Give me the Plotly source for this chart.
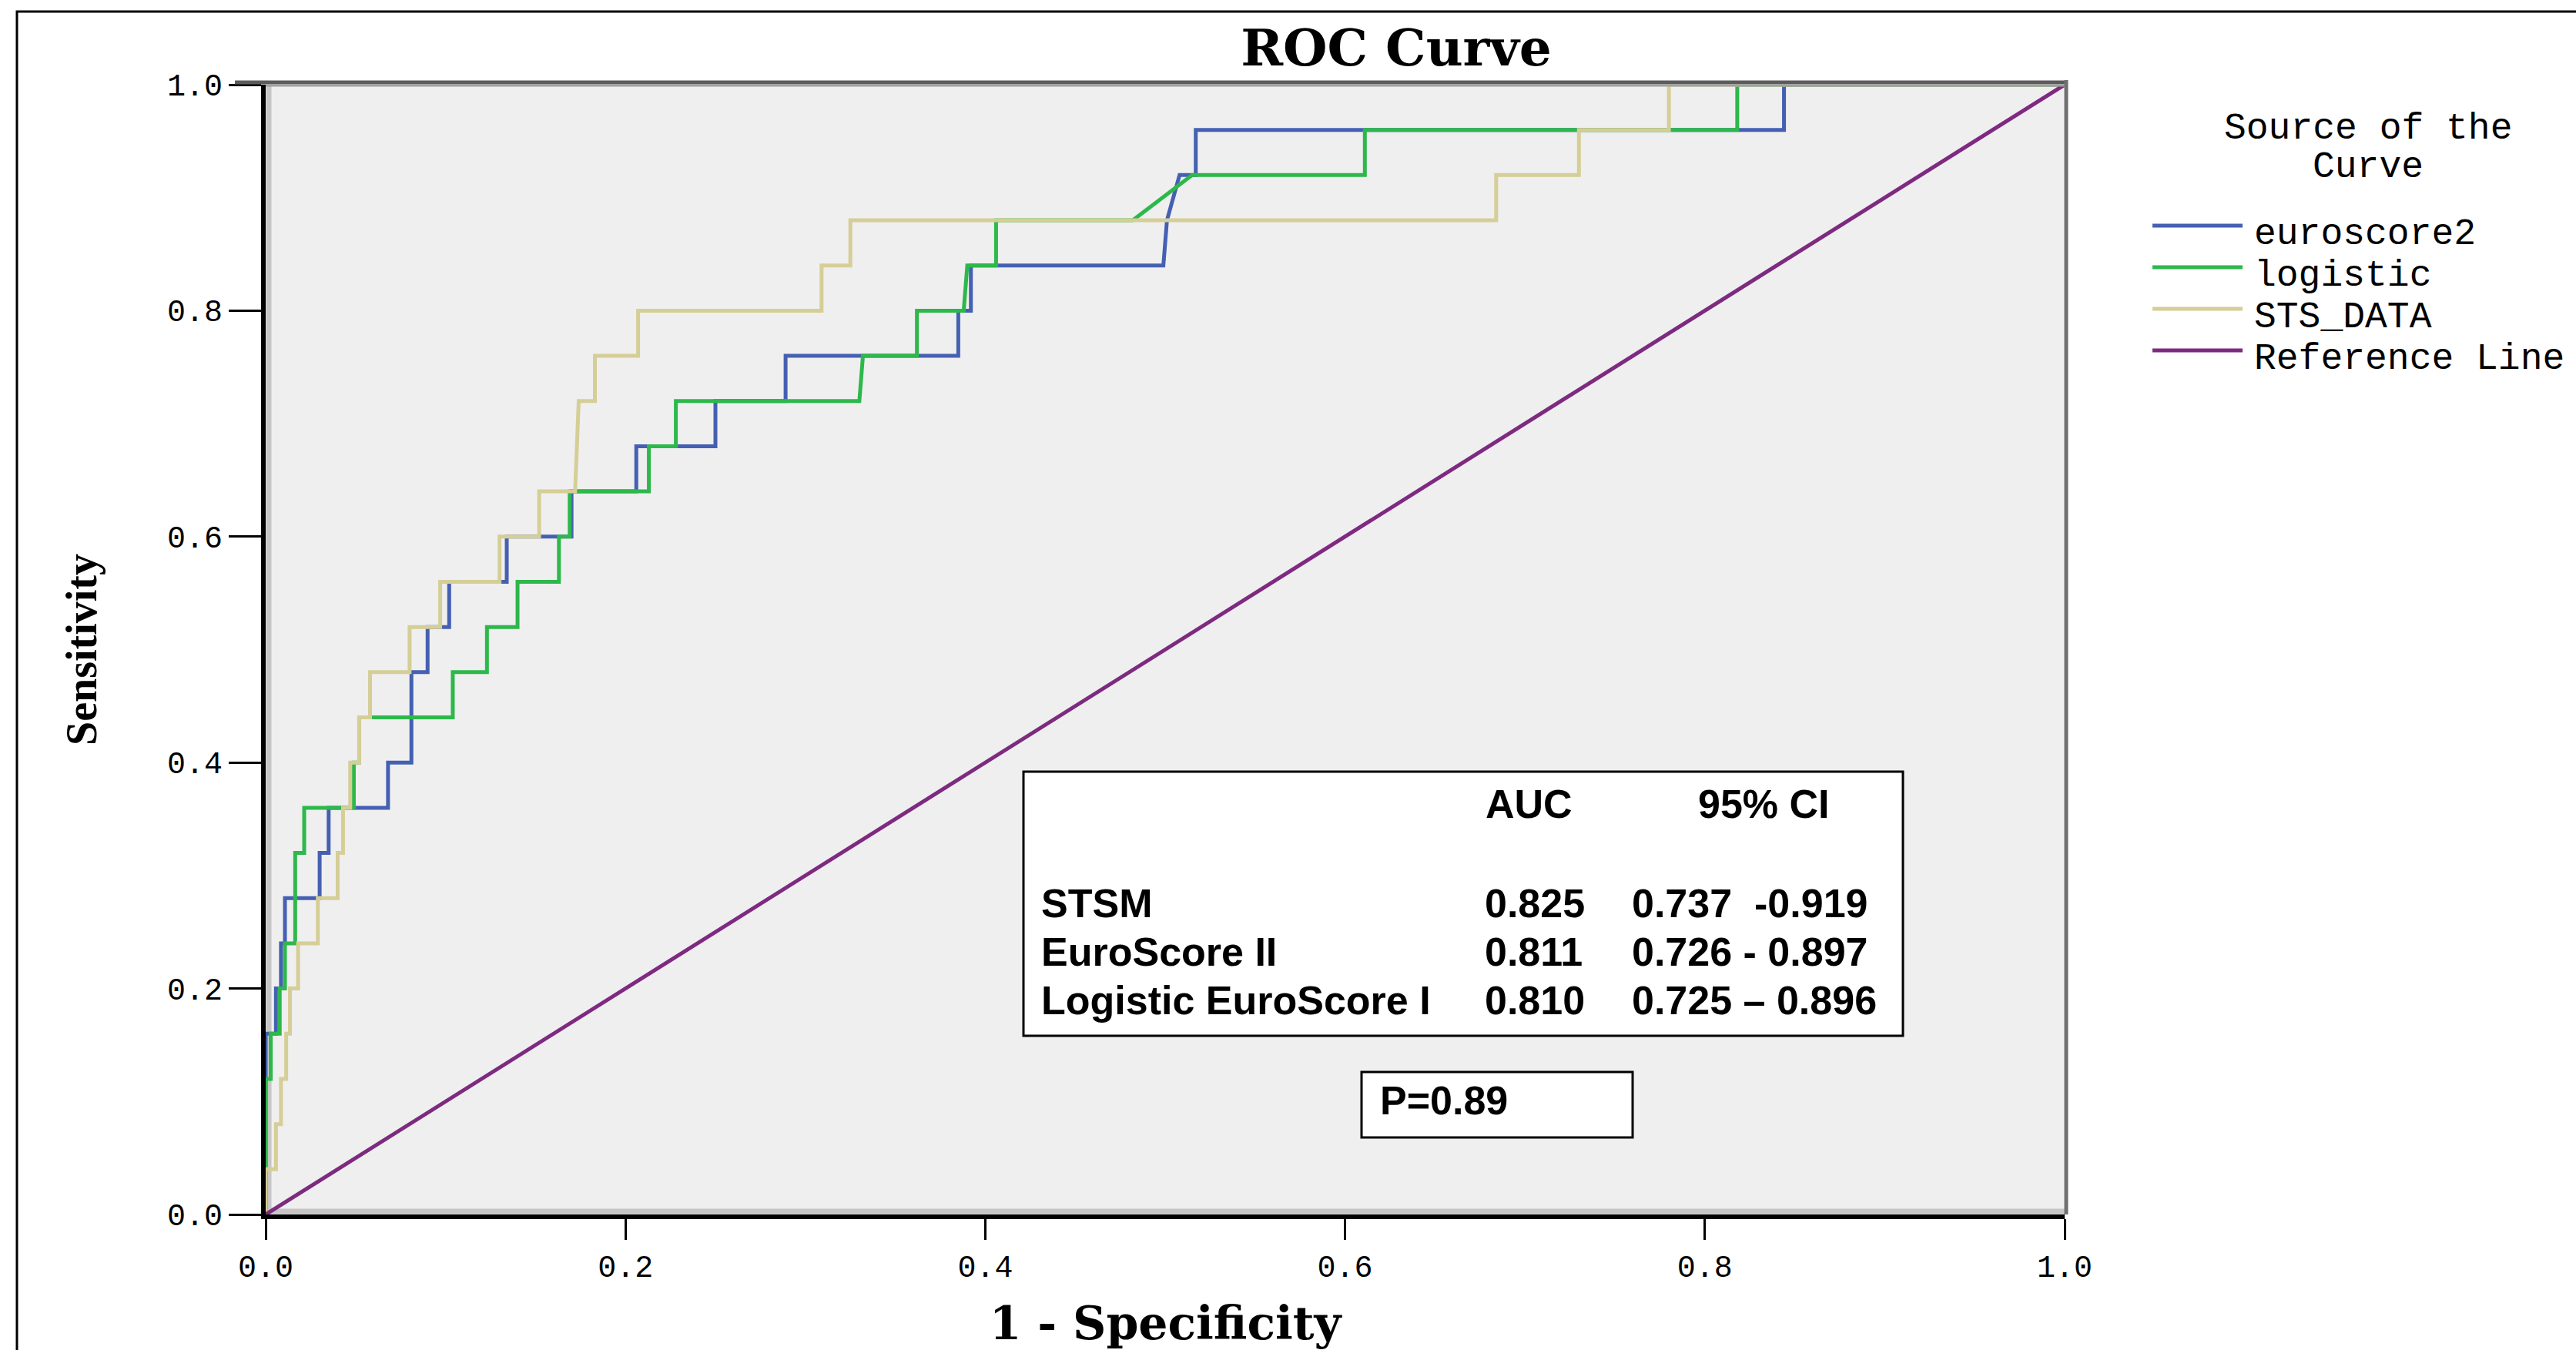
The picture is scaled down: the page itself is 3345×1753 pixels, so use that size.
import plotly.graph_objects as go

# ---------------- data ----------------
euro2_fpr = [0, 0, 0.0057, 0.0057, 0.0085, 0.0085, 0.0107, 0.0107, 0.030, 0.030, 0.035, 0.035,
             0.068, 0.068, 0.081, 0.081, 0.090, 0.090, 0.102, 0.102, 0.134, 0.134, 0.170, 0.170,
             0.206, 0.206, 0.250, 0.250, 0.289, 0.289, 0.385, 0.385, 0.392, 0.392, 0.499, 0.501,
             0.508, 0.517, 0.517, 0.844, 0.844, 1.0]
euro2_tpr = [0, 0.16, 0.16, 0.20, 0.20, 0.24, 0.24, 0.28, 0.28, 0.32, 0.32, 0.36,
             0.36, 0.40, 0.40, 0.48, 0.48, 0.52, 0.52, 0.56, 0.56, 0.60, 0.60, 0.64,
             0.64, 0.68, 0.68, 0.72, 0.72, 0.76, 0.76, 0.80, 0.80, 0.84, 0.84, 0.88,
             0.92, 0.92, 0.96, 0.96, 1.0, 1.0]

logistic_fpr = [0, 0, 0.0028, 0.0028, 0.0078, 0.0078, 0.0107, 0.0107, 0.0164, 0.0164, 0.0214, 0.0214,
                0.049, 0.049, 0.052, 0.052, 0.104, 0.104, 0.123, 0.123, 0.140, 0.140, 0.163, 0.163,
                0.169, 0.169, 0.213, 0.213, 0.228, 0.228, 0.330, 0.332, 0.362, 0.362, 0.388, 0.390,
                0.406, 0.406, 0.482, 0.515, 0.611, 0.611, 0.818, 0.818, 1.0]
logistic_tpr = [0, 0.12, 0.12, 0.16, 0.16, 0.20, 0.20, 0.24, 0.24, 0.32, 0.32, 0.36,
                0.36, 0.40, 0.40, 0.44, 0.44, 0.48, 0.48, 0.52, 0.52, 0.56, 0.56, 0.60,
                0.60, 0.64, 0.64, 0.68, 0.68, 0.72, 0.72, 0.76, 0.76, 0.80, 0.80, 0.84,
                0.84, 0.88, 0.88, 0.92, 0.92, 0.96, 0.96, 1.0, 1.0]

sts_fpr = [0, 0, 0.0057, 0.0057, 0.0085, 0.0085, 0.0114, 0.0114, 0.0135, 0.0135, 0.018, 0.018,
           0.029, 0.029, 0.040, 0.040, 0.043, 0.043, 0.047, 0.047, 0.052, 0.052, 0.058, 0.058,
           0.080, 0.080, 0.097, 0.097, 0.130, 0.130, 0.152, 0.152, 0.172, 0.174, 0.183, 0.183,
           0.207, 0.207, 0.309, 0.309, 0.325, 0.325, 0.684, 0.684, 0.730, 0.730, 0.780, 0.780, 1.0]
sts_tpr = [0, 0.04, 0.04, 0.08, 0.08, 0.12, 0.12, 0.16, 0.16, 0.20, 0.20, 0.24,
           0.24, 0.28, 0.28, 0.32, 0.32, 0.36, 0.36, 0.40, 0.40, 0.44, 0.44, 0.48,
           0.48, 0.52, 0.52, 0.56, 0.56, 0.60, 0.60, 0.64, 0.64, 0.72, 0.72, 0.76,
           0.76, 0.80, 0.80, 0.84, 0.84, 0.88, 0.88, 0.92, 0.92, 0.96, 0.96, 1.0, 1.0]

ref_x = [0, 1]
ref_y = [0, 1]

series_names = ["euroscore2", "logistic", "STS_DATA", "Reference Line"]
series_colors = ["#4560B2", "#2DB84B", "#D5CE96", "#7D2A80"]

tick_vals = [0.0, 0.2, 0.4, 0.6, 0.8, 1.0]
tick_text = ["0.0", "0.2", "0.4", "0.6", "0.8", "1.0"]

table_header = ["AUC", "95% CI"]
table_rows = ["STSM", "EuroScore II", "Logistic EuroScore I"]
table_auc = ["0.825", "0.811", "0.810"]
table_ci = ["0.737  -0.919", "0.726 - 0.897", "0.725 \u2013 0.896"]
p_text = "P=0.89"

# ---------------- layout geometry (pixels) ----------------
W, H = 3345, 1753
L, R, T, B = 345, 2681, 110, 1577
PW, PH = R - L, B - T


def px(X):
    return (X - L) / PW


def py(Y):
    return (B - Y) / PH


fig = go.Figure()
xs = [euro2_fpr, logistic_fpr, sts_fpr, ref_x]
ys = [euro2_tpr, logistic_tpr, sts_tpr, ref_y]
for name, col, x, y in zip(series_names, series_colors, xs, ys):
    fig.add_trace(go.Scatter(x=x, y=y, mode="lines", name=name,
                             line=dict(color=col, width=5), showlegend=False,
                             hoverinfo="skip"))

shapes = []
# inner light-gray bands along left and bottom axes
shapes.append(dict(type="line", xref="x", yref="y", x0=px(L + 4), x1=px(L + 4), y0=0, y1=1,
                   line=dict(color="#C6C6C6", width=7), layer="below"))
shapes.append(dict(type="line", xref="x", yref="y", x0=0, x1=1, y0=py(B - 4), y1=py(B - 4),
                   line=dict(color="#C6C6C6", width=7), layer="below"))
# top and right frame (gray)
shapes.append(dict(type="line", xref="paper", yref="paper", x0=px(L - 40), x1=px(R + 4), y0=py(T - 3), y1=py(T - 3),
                   line=dict(color="#5C5C5C", width=5), layer="above"))
shapes.append(dict(type="line", xref="paper", yref="paper", x0=0, x1=px(R), y0=py(T + 1), y1=py(T + 1),
                   line=dict(color="#A0A0A0", width=3), layer="above"))
shapes.append(dict(type="line", xref="paper", yref="paper", x0=px(R + 2), x1=px(R + 2), y0=py(B), y1=py(T - 6),
                   line=dict(color="#707070", width=5), layer="above"))
# outer frame of the picture
shapes.append(dict(type="rect", xref="paper", yref="paper", x0=px(22), x1=px(W + 50), y0=py(H + 50), y1=py(15),
                   line=dict(color="black", width=3), fillcolor="rgba(0,0,0,0)", layer="above"))
# AUC table box and P box
shapes.append(dict(type="rect", xref="x", yref="y", x0=px(1329), x1=px(2471), y0=py(1345), y1=py(1002),
                   line=dict(color="black", width=3), fillcolor="white", layer="above"))
shapes.append(dict(type="rect", xref="x", yref="y", x0=px(1768), x1=px(2120), y0=py(1477), y1=py(1392),
                   line=dict(color="black", width=3), fillcolor="white", layer="above"))
# legend line samples
leg_y = [293, 347, 401, 455]
for col, ly in zip(series_colors, leg_y):
    shapes.append(dict(type="line", xref="paper", yref="paper", x0=px(2795), x1=px(2912), y0=py(ly), y1=py(ly),
                       line=dict(color=col, width=5), layer="above"))

annotations = []
tfont = dict(family="Liberation Sans", size=52, color="black")


def ann(text, X, Y, font, xanchor="left"):
    annotations.append(dict(text=text, xref="paper", yref="paper", x=px(X), y=py(Y),
                            xanchor=xanchor, yanchor="middle", showarrow=False, font=font))


ann("<b>%s</b>" % table_header[0], 1927, 1063 - 19, tfont)
ann("<b>%s</b>" % table_header[1], 2203, 1063 - 19, tfont)
for i, (lab, auc, ci) in enumerate(zip(table_rows, table_auc, table_ci)):
    base = 1192 + 63 * i - 19
    ann("<b>%s</b>" % lab, 1350, base, tfont)
    ann("<b>%s</b>" % auc, 1926, base, tfont)
    ann("<b>%s</b>" % ci, 2117, base, tfont)
ann("<b>%s</b>" % p_text, 1790, 1448 - 19, tfont)

lfont = dict(family="Liberation Mono", size=48, color="black")
ann("Source of the", 3075, 167, lfont, xanchor="center")
ann("Curve", 3075, 217, lfont, xanchor="center")
for name, ly in zip(series_names, leg_y):
    ann(name, 2925, ly + 11, lfont)

fig.update_layout(
    width=W, height=H,
    margin=dict(l=L, r=W - R, t=T, b=H - B, autoexpand=False),
    paper_bgcolor="white",
    plot_bgcolor="#EFEFEF",
    showlegend=False,
    title=dict(text="<b>ROC Curve</b>", x=px(1813), xref="paper", xanchor="center",
               y=1 - 62 / H, yref="container", yanchor="middle",
               font=dict(family="DejaVu Serif", size=66, color="black")),
    shapes=shapes,
    annotations=annotations,
)
fig.update_xaxes(range=[0, 1], tickvals=tick_vals, ticktext=tick_text,
                 showgrid=False, zeroline=False, showline=True, linecolor="black", linewidth=6,
                 ticks="outside", ticklen=27, tickwidth=3, tickcolor="black",
                 tickfont=dict(family="Liberation Mono", size=40, color="black"),
                 title=dict(text="<b>1 - Specificity</b>", standoff=30,
                            font=dict(family="DejaVu Serif", size=60, color="black")))
fig.update_yaxes(range=[0, 1], tickvals=tick_vals, ticktext=tick_text,
                 showgrid=False, zeroline=False, showline=True, linecolor="black", linewidth=6,
                 ticks="outside", ticklen=42, tickwidth=3, tickcolor="black",
                 tickfont=dict(family="Liberation Mono", size=40, color="black"),
                 title=dict(text="<b>Sensitivity</b>", standoff=75,
                            font=dict(family="Liberation Serif", size=56, color="black")))

fig.write_html("out.html", config={"displayModeBar": False},
               post_script="document.body.style.margin='0px';")
